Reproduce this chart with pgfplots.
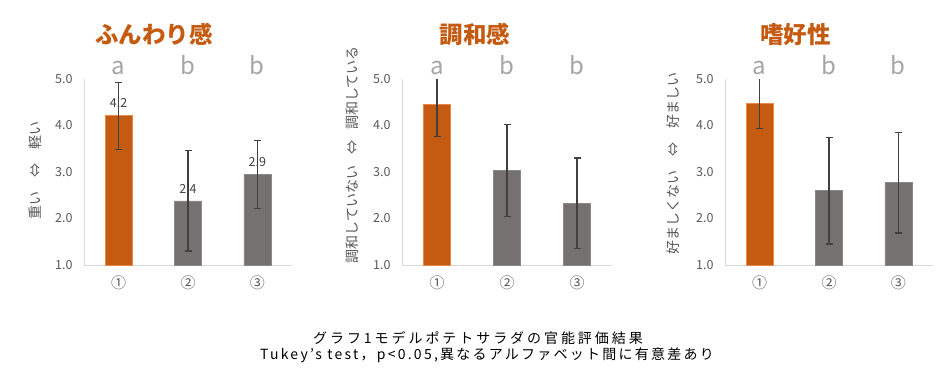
\documentclass[border=0pt]{standalone}
\usepackage{pgfplots}
\pgfplotsset{compat=1.18}
\usepackage{fontspec}
\setmainfont{Noto Sans CJK JP}
\newfontfamily\capfont[LetterSpace=16]{Noto Sans CJK JP}
\newfontfamily\capfonta[LetterSpace=21]{Noto Sans CJK JP}
\definecolor{orng}{HTML}{C55A11}
\definecolor{orngedge}{HTML}{E8884A}
\definecolor{gbar}{HTML}{767171}
\definecolor{gedge}{HTML}{8C8888}
\definecolor{ticktxt}{HTML}{595959}
\definecolor{letter}{HTML}{A6A6A6}
\definecolor{axl}{HTML}{D9D9D9}
\definecolor{errc}{HTML}{404040}
\pgfplotsset{
  panel/.style={
    scale only axis, width=208pt, height=186pt,
    anchor=south west,
    xmin=0.5, xmax=3.5, ymin=1, ymax=5,
    ytick={1,2,3,4,5},
    yticklabel={\pgfmathprintnumber[fixed,fixed zerofill,precision=1]{\tick}},
    xtick={1,2,3}, xticklabels={①,②,③},
    axis x line*=bottom, axis y line*=left,
    axis line style={axl, line width=1pt, -},
    major tick length=0pt,
    tick label style={font=\fontsize{12.5}{13}\selectfont, ticktxt},
    /pgf/number format/assume math mode=true,
    yticklabel style={xshift=-8pt},
    xticklabel style={font=\fontsize{15}{16}\selectfont, ticktxt, yshift=-7pt},
    ybar, bar width=27pt, bar shift=0pt,
    clip=true, clip mode=individual,
    error bars/y dir=both, error bars/y explicit,
    error bars/error bar style={errc, line width=1.2pt},
    error bars/error mark options={errc, line width=1.2pt, rotate=90, mark size=3.5pt},
  },
  obar/.style={fill=orng, draw=orngedge, line width=0.6pt},
  gbarst/.style={fill=gbar, draw=gedge, line width=0.6pt},
}
\newcommand{\letters}{%
  \node[anchor=base, letter, font=\fontsize{24}{26}\selectfont] at (axis cs:1,5.09) {a};
  \node[anchor=base, letter, font=\fontsize{24}{26}\selectfont] at (axis cs:2,5.09) {b};
  \node[anchor=base, letter, font=\fontsize{24}{26}\selectfont] at (axis cs:3,5.09) {b};
}
\begin{document}
\begin{tikzpicture}
\path[use as bounding box] (0,0) rectangle (950pt,381pt);
\fill[white] (0,0) rectangle (950pt,381pt);
% Panel 1
\begin{axis}[panel, at={(84pt,116pt)},
  nodes near coords={\pgfmathprintnumber[fixed,precision=1]{\pgfplotspointmeta}},
  every node near coord/.append style={font=\fontsize{12.5}{13}\selectfont, errc, yshift=4pt,
     /pgf/number format/assume math mode=true}]
\addplot[obar] coordinates {(1,4.21) +- (0,0.72)};
\addplot[gbarst] coordinates {(2,2.38) +- (0,1.08) (3,2.94) +- (0,0.73)};
\letters
\node[anchor=base, orng, font=\bfseries\fontsize{23.5}{25}\selectfont] at (axis cs:1.51,5.77) {ふんわり感};
\node[rotate=90, ticktxt, font=\fontsize{14}{15}\selectfont] at (axis cs:-0.21,3.04) {重い\hspace{1em}⇔\hspace{1em}軽い};
\end{axis}
% Panel 2
\begin{axis}[panel, width=210pt, at={(402pt,116pt)}]
\addplot[obar] coordinates {(1,4.45) +- (0,0.68)};
\addplot[gbarst] coordinates {(2,3.04) +- (0,0.99) (3,2.33) +- (0,0.97)};
\letters
\node[anchor=base, orng, font=\bfseries\fontsize{23.5}{25}\selectfont] at (axis cs:1.54,5.77) {調和感};
\node[rotate=90, ticktxt, font=\fontsize{14}{15}\selectfont] at (axis cs:-0.21,3.37) {調和していない\hspace{0.8em}⇔\hspace{0.8em}調和している};
\end{axis}
% Panel 3
\begin{axis}[panel, at={(725pt,116pt)}]
\addplot[obar] coordinates {(1,4.48) +- (0,0.54)};
\addplot[gbarst] coordinates {(2,2.60) +- (0,1.15) (3,2.77) +- (0,1.08)};
\letters
\node[anchor=base, orng, font=\bfseries\fontsize{23.5}{25}\selectfont] at (axis cs:1.52,5.77) {嗜好性};
\node[rotate=90, ticktxt, font=\fontsize{14}{15}\selectfont] at (axis cs:-0.25,3.19) {好ましくない\hspace{1em}⇔\hspace{1em}好ましい};
\end{axis}
\node[font=\capfonta\fontsize{14}{15}\selectfont, black] at (478pt,43pt) {グラフ1モデルポテトサラダの官能評価結果};
\node[font=\capfont\fontsize{14}{15}\selectfont, black] at (487pt,26pt) {Tukey’s test，p<0.05,異なるアルファベット間に有意差あり};
\end{tikzpicture}
\end{document}
